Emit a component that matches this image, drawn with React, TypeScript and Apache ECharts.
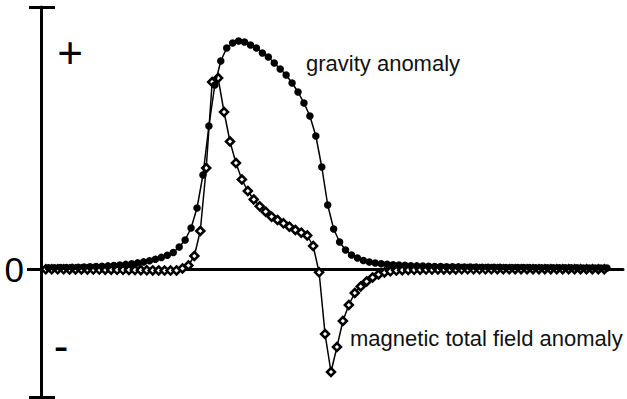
import React, { useEffect, useRef } from "react";
import * as echarts from "echarts";

// sample index along the profile (shared by both curves)
const sampleIndex: number[] = Array.from({ length: 95 }, (_, i) => i);
// the magnetic samples sit slightly left of the gravity samples in the picture
const magneticShift = -0.45;

// gravity anomaly (arbitrary units)
const gravity: number[] = [
  1.2, 1.3, 1.4, 1.5, 1.6, 1.8, 2.0, 2.2, 2.5, 2.8,
  3.1, 3.5, 4.0, 4.6, 5.3, 6.1, 7.1, 8.3, 9.8, 11.6,
  13.8, 16.5, 22, 29, 41, 61, 94, 143, 184, 208,
  221, 226, 228, 227, 224, 221, 216, 212, 206, 200,
  194, 186, 177, 166, 153, 133, 102, 64, 40, 27,
  19, 14, 11, 8.5, 7.0, 6.0, 5.3, 4.8, 4.3, 3.9,
  3.6, 3.3, 3.1, 2.9, 2.7, 2.5, 2.4, 2.3, 2.2, 2.1,
  2.0, 1.9, 1.85, 1.8, 1.7, 1.65, 1.6, 1.55, 1.5, 1.45,
  1.4, 1.35, 1.3, 1.3, 1.25, 1.2, 1.2, 1.15, 1.1, 1.1,
  1.05, 1.0, 1.0, 1.0, 0.95,
];

// magnetic total field anomaly (arbitrary units)
const magnetic: number[] = [
  -0.3, -0.3, -0.3, -0.35, -0.4, -0.4, -0.45, -0.5, -0.55, -0.6,
  -0.65, -0.7, -0.8, -0.85, -0.95, -1.05, -1.15, -1.3, -1.4, -1.5,
  -1.6, -1.6, -1.4, 0.5, 3.5, 13, 38, 101, 187, 191,
  157, 127.5, 106, 89.5, 78, 69.5, 62.7, 57.3, 52.3, 49,
  45.7, 42.3, 39, 36.3, 33.5, 23, -3.3, -65, -103, -78,
  -52, -36, -24, -17.5, -12.5, -8.5, -5.5, -3.5, -2.3, -1.6,
  -1.2, -1.0, -0.8, -0.7, -0.6, -0.55, -0.5, -0.45, -0.4, -0.4,
  -0.35, -0.35, -0.3, -0.3, -0.3, -0.3, -0.25, -0.25, -0.25, -0.25,
  -0.2, -0.2, -0.2, -0.2, -0.2, -0.2, -0.2, -0.2, -0.2, -0.2,
  -0.2, -0.2, -0.2, -0.2, -0.2,
];

const yMin = -128;
const yMax = 262;
const zeroLabel = ["0"];
const signLabels = ["+", "-"];
const seriesNames = ["gravity anomaly", "magnetic total field anomaly"];

const FONT = "'Liberation Sans', Arial, sans-serif";

export default function App() {
  const ref = useRef<HTMLDivElement>(null);

  useEffect(() => {
    if (!ref.current) return;
    const chart = echarts.init(ref.current, undefined, { renderer: "svg" });
    const gData = sampleIndex.map((x, i) => [x, gravity[i]]);
    const mData = sampleIndex.map((x, i) => [x + magneticShift, magnetic[i]]);

    chart.setOption({
      animation: false,
      backgroundColor: "#ffffff",
      grid: { left: 41, right: 4, top: 7, bottom: 2, containLabel: false },
      xAxis: {
        type: "value",
        min: -1.26,
        max: 96.7,
        axisLine: { show: true, onZero: true, lineStyle: { color: "#000", width: 3 } },
        axisTick: { show: false },
        axisLabel: { show: false },
        splitLine: { show: false },
      },
      yAxis: [
        {
          type: "value",
          min: yMin,
          max: yMax,
          position: "left",
          axisLine: { show: true, onZero: false, lineStyle: { color: "#000", width: 3 } },
          axisTick: {
            show: true,
            inside: false,
            length: 14,
            customValues: [0],
            lineStyle: { color: "#000", width: 3 },
          },
          axisLabel: {
            show: true,
            customValues: [0],
            formatter: () => zeroLabel[0],
            fontSize: 35,
            fontFamily: FONT,
            color: "#000",
            margin: 17,
          },
          splitLine: { show: false },
        },
        {
          type: "value",
          min: yMin,
          max: yMax,
          position: "left",
          offset: -14,
          axisLine: { show: false },
          axisTick: {
            show: true,
            inside: false,
            length: 26,
            customValues: [yMin, yMax],
            lineStyle: { color: "#000", width: 3 },
          },
          axisLabel: { show: false },
          splitLine: { show: false },
        },
      ],
      graphic: [
        {
          type: "text",
          x: 70,
          y: 52,
          style: {
            text: signLabels[0],
            fontSize: 44,
            fontFamily: FONT,
            fill: "#000",
            textAlign: "center",
            textVerticalAlign: "middle",
          },
        },
        {
          type: "text",
          x: 61,
          y: 345,
          style: {
            text: signLabels[1],
            fontSize: 44,
            fontFamily: FONT,
            fill: "#000",
            textAlign: "center",
            textVerticalAlign: "middle",
          },
        },
        {
          type: "text",
          x: 306,
          y: 63,
          style: {
            text: seriesNames[0],
            fontSize: 22,
            fontFamily: FONT,
            fill: "#111",
            textAlign: "left",
            textVerticalAlign: "middle",
          },
        },
        {
          type: "text",
          x: 350,
          y: 338,
          style: {
            text: seriesNames[1],
            fontSize: 22,
            fontFamily: FONT,
            fill: "#111",
            textAlign: "left",
            textVerticalAlign: "middle",
          },
        },
      ],
      series: [
        {
          name: seriesNames[1],
          type: "line",
          data: mData,
          showAllSymbol: true,
          symbol: "diamond",
          symbolSize: 8,
          itemStyle: { color: "#fff", borderColor: "#000", borderWidth: 2.5 },
          lineStyle: { color: "#000", width: 1.5 },
          emphasis: { disabled: true },
          z: 3,
        },
        {
          name: seriesNames[0],
          type: "line",
          data: gData,
          showAllSymbol: true,
          symbol: "circle",
          symbolSize: 7.5,
          itemStyle: { color: "#000", borderWidth: 0 },
          lineStyle: { color: "#000", width: 1.5 },
          emphasis: { disabled: true },
          z: 4,
        },
      ],
    });

    return () => chart.dispose();
  }, []);

  return (
    <div
      ref={ref}
      style={{ position: "fixed", left: 0, top: 0, width: 627, height: 399, background: "#fff" }}
    />
  );
}
